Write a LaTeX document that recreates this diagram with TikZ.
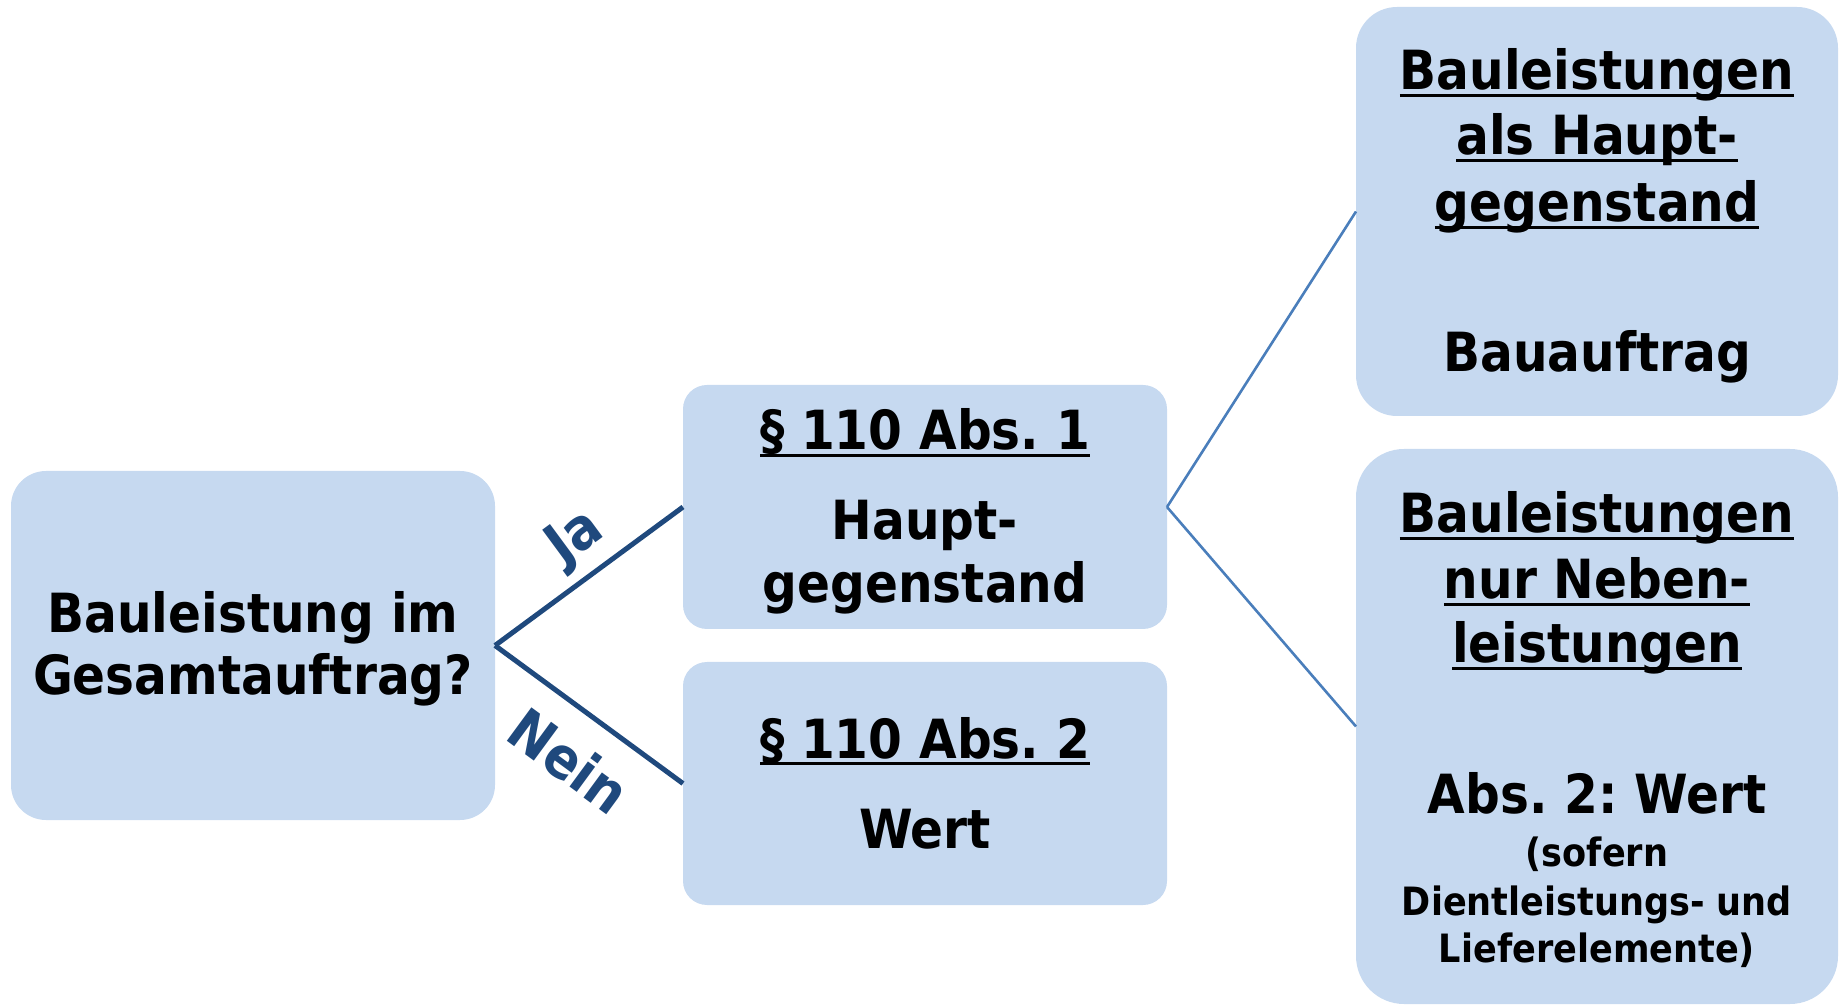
\documentclass[tikz,border=0pt]{standalone}
\usepackage{fontspec}
\setmainfont{DejaVu Sans Condensed}[BoldFont={DejaVu Sans Condensed Bold}]
\frenchspacing
\definecolor{boxfill}{RGB}{198,217,240}
\definecolor{darkline}{RGB}{31,73,125}
\definecolor{midline}{RGB}{74,126,187}
% underline that runs through the descenders, close to the baseline
\newcommand\ulwords[1]{\setbox0\hbox{#1}\rlap{\vrule height -4pt depth 7pt width \wd0}\box0}
\tikzset{
  x=1pt, y=1pt,
  card/.style={fill=boxfill, draw=none, inner sep=0pt, outer sep=0pt},
  line/.style={anchor=base, inner sep=0pt, font=\fontsize{54}{60}\selectfont\bfseries},
  smallline/.style={anchor=base, inner sep=0pt, font=\fontsize{39}{47}\selectfont\bfseries},
  branch/.style={draw=darkline, line width=5pt},
  twig/.style={draw=midline, line width=2.6pt},
  answer/.style={text=darkline, inner sep=0pt, sloped, pos=0.55, font=\fontsize{57}{62}\selectfont\bfseries}
}
\begin{document}
\begin{tikzpicture}
\useasboundingbox (0,0) rectangle (1845,1005);

% boxes
\node[card, rounded corners=35pt, minimum width=484pt, minimum height=349pt] (q)  at (253,359.5) {};
\node[card, rounded corners=24pt, minimum width=484pt, minimum height=244pt] (a1) at (925,498) {};
\node[card, rounded corners=24pt, minimum width=484pt, minimum height=243pt] (a2) at (925,221.5) {};
\node[card, rounded corners=41pt, minimum width=482pt, minimum height=409pt] (r1) at (1597,793.5) {};
\node[card, rounded corners=48pt, minimum width=482pt, minimum height=555pt] (r2) at (1597,278.5) {};

% connectors
\draw[branch] (q.east) -- node[answer, above=9pt] (ja) {Ja} (a1.west);
\draw[branch] (q.east) -- node[answer, below=24pt] (nein) {Nein} (a2.west);
\draw[twig] (a1.east) -- (r1.west);
\draw[twig] (a1.east) -- (r2.west);

% question
\node[line] (q1) at (253,372) {Bauleistung im};
\node[line] (q2) at (253,310) {Gesamtauftrag?};

% paragraph 1
\node[line] (a1t) at (925,555) {\ulwords{§ 110 Abs. 1}};
\node[line] (a1a) at (925,465) {Haupt-};
\node[line] (a1b) at (925,402) {gegenstand};

% paragraph 2
\node[line] (a2t) at (925,247) {\ulwords{§ 110 Abs. 2}};
\node[line] (a2a) at (925,157) {Wert};

% main object
\node[line] (r1a) at (1597,915) {\ulwords{Bauleistungen}};
\node[line] (r1b) at (1597,850) {\ulwords{als Haupt-}};
\node[line] (r1c) at (1597,783) {\ulwords{gegenstand}};
\node[line] (r1d) at (1597,633) {Bauauftrag};

% ancillary works
\node[line] (r2a) at (1597,472) {\ulwords{Bauleistungen}};
\node[line] (r2b) at (1597,406) {\ulwords{nur Neben-}};
\node[line] (r2c) at (1597,342) {\ulwords{leistungen}};
\node[line] (r2d) at (1597,192) {Abs. 2: Wert};
\node[smallline] (r2e) at (1597,139) {(sofern};
\node[smallline] (r2f) at (1597,90) {Dientleistungs- und};
\node[smallline] (r2g) at (1597,43) {Lieferelemente)};
\end{tikzpicture}
\end{document}
